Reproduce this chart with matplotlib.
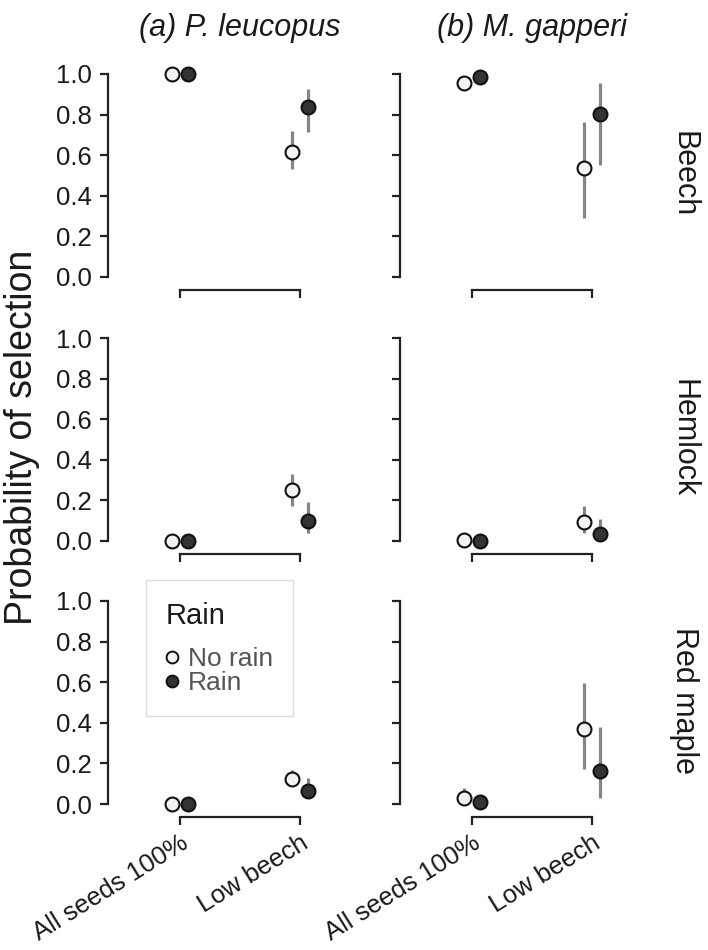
import matplotlib
matplotlib.use("Agg")
import matplotlib.pyplot as plt
from matplotlib.lines import Line2D
from matplotlib.patches import Rectangle
import numpy as np

plt.rcParams['font.family'] = ['Liberation Sans', 'DejaVu Sans']

# ---- data ----
species = ["(a) P. leucopus", "(b) M. gapperi"]
seed_types = ["Beech", "Hemlock", "Red maple"]
categories = ["All seeds 100%", "Low beech"]
rain_levels = ["No rain", "Rain"]

# est[seed][species][rain] -> values for each category
est = {
    "Beech":     [[[1.00, 0.616], [1.00, 0.837]],
                  [[0.956, 0.537], [0.985, 0.803]]],
    "Hemlock":   [[[0.000, 0.251], [0.000, 0.098]],
                  [[0.003, 0.092], [0.000, 0.034]]],
    "Red maple": [[[0.000, 0.123], [0.000, 0.064]],
                  [[0.030, 0.369], [0.010, 0.163]]],
}
lower = {
    "Beech":     [[[1.00, 0.53], [1.00, 0.714]],
                  [[0.92, 0.29], [0.975, 0.552]]],
    "Hemlock":   [[[0.000, 0.172], [0.000, 0.04]],
                  [[0.000, 0.04], [0.000, 0.01]]],
    "Red maple": [[[0.000, 0.09], [0.000, 0.03]],
                  [[0.005, 0.172], [0.002, 0.03]]],
}
upper = {
    "Beech":     [[[1.00, 0.72], [1.00, 0.926]],
                  [[0.985, 0.764], [0.995, 0.956]]],
    "Hemlock":   [[[0.005, 0.33], [0.005, 0.19]],
                  [[0.01, 0.172], [0.005, 0.108]]],
    "Red maple": [[[0.005, 0.167], [0.005, 0.128]],
                  [[0.079, 0.596], [0.03, 0.379]]],
}
yticks = [0.0, 0.2, 0.4, 0.6, 0.8, 1.0]

# ---- layout ----
W, H = 708, 950
fig = plt.figure(figsize=(W / 100, H / 100), dpi=100)

px_per_unit = 203.0
ylo, yhi = -0.065, 1.08
xlo, xhi = -0.6, 1.6
col_left = [108, 400]
col_w = 264
zero_y = [277, 541, 804]
offsets = [-0.07, 0.07]
fills = ['#f2f2f2', '#333333']
spine_col = '#222222'
txt_col = '#1a1a1a'

for r, seed in enumerate(seed_types):
    top_px = zero_y[r] - yhi * px_per_unit
    bot_px = zero_y[r] - ylo * px_per_unit
    for c, sp in enumerate(species):
        ax = fig.add_axes([col_left[c] / W, 1 - bot_px / H, col_w / W, (bot_px - top_px) / H])
        ax.set_xlim(xlo, xhi)
        ax.set_ylim(ylo, yhi)
        for s in ['top', 'right']:
            ax.spines[s].set_visible(False)
        ax.spines['left'].set_bounds(0, 1)
        ax.spines['bottom'].set_bounds(0, 1)
        for s in ['left', 'bottom']:
            ax.spines[s].set_linewidth(1.6)
            ax.spines[s].set_color(spine_col)
        ax.set_xticks([0, 1])
        ax.set_yticks(yticks)
        ax.tick_params(axis='both', direction='out', length=6, width=1.6, color=spine_col,
                       labelsize=18.5, labelcolor=txt_col, pad=5.5)
        if c == 0:
            ax.set_yticklabels([f"{v:.1f}" for v in yticks])
        else:
            ax.set_yticklabels([])
        if r == 2:
            ax.set_xticklabels(categories, rotation=32, ha='right', va='top',
                               rotation_mode='anchor', fontsize=18.5)
            ax.tick_params(axis='x', pad=4)
        else:
            ax.set_xticklabels([])
        ax.set_facecolor('none')
        for k in range(2):
            xs = np.arange(len(categories)) + offsets[k]
            y = np.array(est[seed][c][k])
            lo = np.array(lower[seed][c][k])
            hi = np.array(upper[seed][c][k])
            ax.errorbar(xs, y, yerr=[y - lo, hi - y], fmt='none', ecolor='#858585',
                        elinewidth=2.3, capsize=0, zorder=2)
            ax.plot(xs, y, 'o', ms=10, mfc=fills[k], mec='#111111', mew=1.5,
                    linestyle='none', zorder=3, clip_on=False)
    # row strip label
    fig.text(684 / W, 1 - ((top_px + bot_px) / 2) / H, seed, rotation=-90,
             ha='center', va='center', fontsize=22, color=txt_col)

# column titles
for c, sp in enumerate(species):
    fig.text((col_left[c] + col_w / 2) / W, 1 - 28 / H, sp, ha='center', va='center',
             fontsize=22, style='italic', color=txt_col)

# y label
fig.text(22 / W, 1 - 437 / H, "Probability of selection", rotation=90,
         ha='center', va='center', fontsize=27, color=txt_col)

# legend (frame and title drawn separately)
fig.patches.append(Rectangle((146 / W, 1 - 716 / H), 147 / W, 136 / H,
                             transform=fig.transFigure, facecolor='white',
                             edgecolor='#dcdcdc', linewidth=1.0, zorder=5))
fig.text(166 / W, 1 - 616 / H, "Rain", ha='left', va='center', fontsize=21,
         color=txt_col, zorder=6)
handles = [Line2D([], [], marker='o', ms=8.5, mfc=fills[k], mec='#111111', mew=1.4,
                  linestyle='none') for k in range(2)]
leg = fig.legend(handles, rain_levels, loc='center left',
                 bbox_to_anchor=(162 / W, 1 - 671 / H), frameon=False,
                 fontsize=19, handletextpad=0.22, handlelength=0.75,
                 borderpad=0, labelspacing=-0.02, borderaxespad=0)
leg.set_zorder(6)
for t in leg.get_texts():
    t.set_color('#555555')

fig.savefig("out.png", dpi=100)
